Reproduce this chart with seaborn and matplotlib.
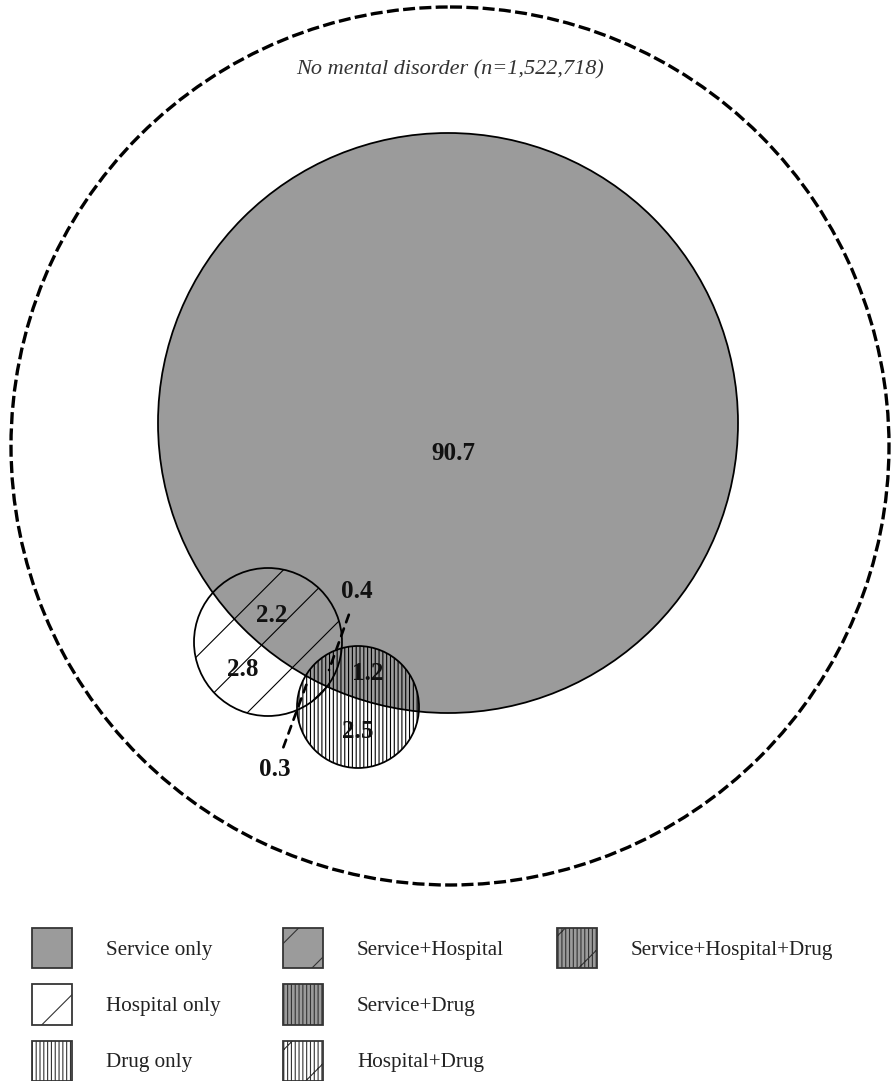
import matplotlib
matplotlib.use("Agg")
import matplotlib.pyplot as plt
from matplotlib.patches import Circle, Patch
import seaborn as sns

# ---- data -------------------------------------------------------------
title_text = "No mental disorder (n=1,522,718)"

# share (%) of people in each combination of care use
region_names = ["Service only", "Hospital only", "Drug only",
                "Service+Hospital", "Service+Drug", "Hospital+Drug",
                "Service+Hospital+Drug"]
region_pct = [90.7, 2.8, 2.5, 2.2, 1.2, 0.3, 0.4]

legend_col1 = ["Service only", "Hospital only", "Drug only"]
legend_col2 = ["Service+Hospital", "Service+Drug", "Hospital+Drug"]
legend_col3 = ["Service+Hospital+Drug"]

# ---- style ------------------------------------------------------------
sns.set_theme(style="white")
plt.rcParams["font.family"] = ["Liberation Serif", "DejaVu Serif"]
plt.rcParams["hatch.linewidth"] = 0.5

DPI = 160
W, H = 895, 1081
GRAY = "#9b9b9b"
HATCH_H = "/"
HATCH_D = "|" * 7

fig = plt.figure(figsize=(W / DPI, H / DPI), dpi=DPI)
ax = fig.add_axes([0, 0, 1, 1])
ax.set_xlim(0, W)
ax.set_ylim(H, 0)
ax.set_aspect("equal")
ax.axis("off")

# ---- circles (geometry in canvas pixels) ------------------------------
outer = Circle((450, 446), 439, fill=False, edgecolor="black",
               lw=1.5, ls=(0, (3.6, 1.3)))
service = Circle((448, 423), 290, facecolor=GRAY, edgecolor="black", lw=0.8)
hospital = Circle((268, 642), 74, facecolor="none", edgecolor="black",
                  lw=0.8, hatch=HATCH_H)
drug = Circle((358, 707), 61, facecolor="none", edgecolor="black",
              lw=0.8, hatch=HATCH_D)
for p in (outer, service, hospital, drug):
    ax.add_patch(p)

ax.text(450, 70, title_text, ha="center", va="center", fontsize=10,
        style="italic", color="#333333")

# ---- region labels ----------------------------------------------------
pct = dict(zip(region_names, region_pct))
label_pos = {
    "Service only": (453, 453),
    "Service+Hospital": (272, 615),
    "Hospital only": (243, 670),
    "Service+Drug": (368, 673),
    "Drug only": (358, 732),
}
for name, (x, y) in label_pos.items():
    ax.text(x, y, f"{pct[name]:.1f}", ha="center", va="center",
            fontsize=11.3, fontweight="bold", color="#111111")

# small regions get a dashed leader
leaders = {
    "Service+Hospital+Drug": ((357, 592), (329, 670)),
    "Hospital+Drug": ((275, 770), (307, 683)),
}
for name, (txt, tip) in leaders.items():
    ax.annotate(f"{pct[name]:.1f}", xy=tip, xytext=txt, xycoords="data",
                ha="center", va="center", fontsize=11.3, fontweight="bold",
                color="#111111",
                arrowprops=dict(arrowstyle="-", ls=(0, (3, 2.5)), lw=1.2,
                                color="black", shrinkA=3, shrinkB=0))

# ---- legend -----------------------------------------------------------
styles = {
    "Service only": (GRAY, None),
    "Hospital only": ("white", HATCH_H),
    "Drug only": ("white", HATCH_D),
    "Service+Hospital": (GRAY, HATCH_H),
    "Service+Drug": (GRAY, HATCH_D),
    "Hospital+Drug": ("white", HATCH_H + HATCH_D),
    "Service+Hospital+Drug": (GRAY, HATCH_H + HATCH_D),
}


def handles_for(names):
    return [Patch(facecolor=styles[n][0], hatch=styles[n][1],
                  edgecolor="#333333", lw=0.8, label=n) for n in names]


col_x = [32, 283, 557]
top_y = 928
fs = 9.5
for cx, names in zip(col_x, [legend_col1, legend_col2, legend_col3]):
    leg = fig.legend(handles=handles_for(names), loc="upper left",
                     bbox_to_anchor=(cx / W, 1 - top_y / H),
                     frameon=False, fontsize=fs, borderpad=0,
                     borderaxespad=0, handlelength=2.0 * 9 / fs,
                     handleheight=2.7 * 9 / fs,
                     handletextpad=1.7 * 9 / fs, labelspacing=0.8 * 9 / fs)
    for t in leg.get_texts():
        t.set_color("#222222")

fig.savefig("out.png", dpi=DPI)
